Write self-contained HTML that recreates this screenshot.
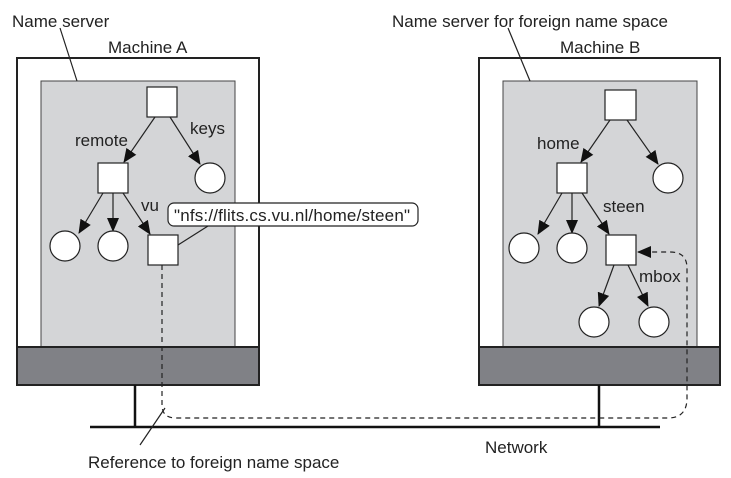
<!DOCTYPE html>
<html><head><style>body{margin:0;background:#fff}svg{display:block}text{font-family:"Liberation Sans",sans-serif;font-size:17px;fill:#222}</style></head>
<body>
<svg width="731" height="478" viewBox="0 0 731 478">
<defs><marker id="a" markerWidth="14" markerHeight="12" refX="13" refY="6" orient="auto" markerUnits="userSpaceOnUse"><path d="M0,0 L14,6 L0,12 z" fill="#111"/></marker>
<marker id="b" markerWidth="14" markerHeight="12" refX="13" refY="6" orient="auto" markerUnits="userSpaceOnUse"><path d="M0,0 L14,6 L0,12 z" fill="#111"/></marker></defs>
<g stroke="#222" stroke-width="2">
<rect x="17" y="58" width="242" height="327" fill="#fff"/>
<rect x="479" y="58" width="241" height="327" fill="#fff"/>
</g>
<g stroke="#444" stroke-width="1">
<rect x="41" y="81" width="194" height="266" fill="#d4d5d7"/>
<rect x="503" y="81" width="194" height="266" fill="#d4d5d7"/>
</g>
<g stroke="#222" stroke-width="2" fill="#808186">
<rect x="17" y="347" width="242" height="38"/>
<rect x="479" y="347" width="241" height="38"/>
</g>
<g stroke="#111" stroke-width="2.5">
<line x1="90" y1="427" x2="660" y2="427"/>
<line x1="135" y1="385" x2="135" y2="427"/>
<line x1="599" y1="385" x2="599" y2="427"/>
</g>
<g stroke="#222" stroke-width="1.2">
<line x1="60" y1="28" x2="77" y2="81"/>
<line x1="508" y1="28" x2="530" y2="81"/>
<line x1="140" y1="445" x2="165" y2="408"/>
<line x1="208" y1="226" x2="178" y2="245"/>
</g>
<path d="M162,265 L162,405 Q162,418 176,418 L668,418 Q687,418 687,398 L687,268 Q687,252 670,252 L638,252" fill="none" stroke="#222" stroke-width="1.2" stroke-dasharray="5,4" marker-end="url(#b)"/>
<g stroke="#222" stroke-width="1.2" marker-end="url(#a)">
<line x1="155" y1="117" x2="124" y2="162"/>
<line x1="170" y1="117" x2="200" y2="164"/>
<line x1="103" y1="193" x2="79" y2="233"/>
<line x1="113" y1="193" x2="113" y2="231"/>
<line x1="123" y1="193" x2="150" y2="234"/>
<line x1="610" y1="120" x2="581" y2="162"/>
<line x1="627" y1="120" x2="658" y2="164"/>
<line x1="562" y1="193" x2="538" y2="234"/>
<line x1="572" y1="193" x2="572" y2="233"/>
<line x1="582" y1="193" x2="609" y2="234"/>
<line x1="614" y1="265" x2="599" y2="306"/>
<line x1="628" y1="265" x2="648" y2="306"/>
</g>
<g stroke="#222" stroke-width="1.2" fill="#fff">
<rect x="147" y="87" width="30" height="30"/>
<rect x="98" y="163" width="30" height="30"/>
<rect x="148" y="235" width="30" height="30"/>
<circle cx="210" cy="178" r="15"/><circle cx="65" cy="246" r="15"/><circle cx="113" cy="246" r="15"/>
<rect x="605" y="90" width="31" height="30"/>
<rect x="557" y="163" width="30" height="30"/>
<rect x="606" y="235" width="30" height="30"/>
<circle cx="668" cy="178" r="15"/><circle cx="524" cy="248" r="15"/><circle cx="572" cy="248" r="15"/>
<circle cx="594" cy="322" r="15"/><circle cx="654" cy="322" r="15"/>
<rect x="168" y="203" width="250" height="23" rx="6"/>
</g>
<text x="12" y="27">Name server</text>
<text x="108" y="53">Machine A</text>
<text x="392" y="27">Name server for foreign name space</text>
<text x="560" y="53">Machine B</text>
<text x="75" y="146">remote</text>
<text x="190" y="134">keys</text>
<text x="141" y="211">vu</text>
<text x="174" y="221" textLength="236">"nfs://flits.cs.vu.nl/home/steen"</text>
<text x="537" y="149">home</text>
<text x="603" y="212">steen</text>
<text x="639" y="282">mbox</text>
<text x="485" y="453">Network</text>
<text x="88" y="468">Reference to foreign name space</text>
</svg>
</body></html>
